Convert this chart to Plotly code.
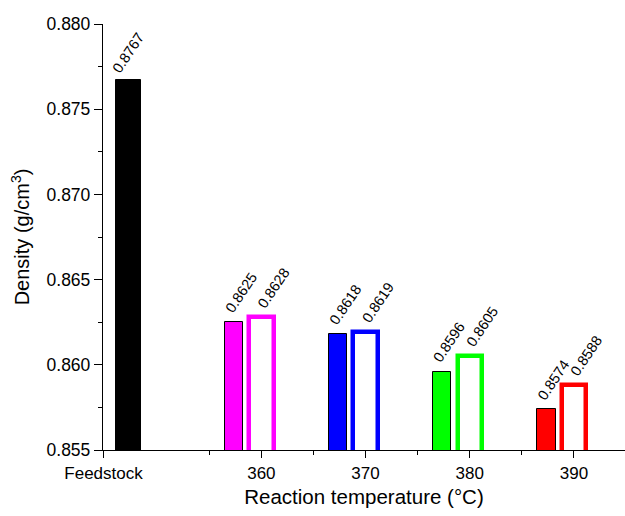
import plotly.graph_objects as go

# Reaction temperatures (°C) and measured densities (g/cm³)
temperatures = [360, 370, 380, 390]
density_solid = [0.8625, 0.8618, 0.8596, 0.8574]
density_open = [0.8628, 0.8619, 0.8605, 0.8588]
feedstock_density = 0.8767
feedstock_label = "Feedstock"
pair_colors = ["#FF00FF", "#0000FF", "#00FF00", "#FF0000"]

y_ticks = [0.855, 0.860, 0.865, 0.870, 0.875, 0.880]

# Layout of the x axis: feedstock sits at the left end of a numeric temperature axis
feed_pos = 344.85
feed_center = 347.2
x_range = [344.8, 394.9]
solid_offset = -2.65
solid_width = 1.77
open_width = 2.34
feed_width = 2.4

FONT = "Liberation Sans, Arial, sans-serif"

fig = go.Figure()

fig.add_trace(go.Bar(
    x=[feed_center], y=[feedstock_density], width=[feed_width],
    marker=dict(color="black", line=dict(color="black", width=1)),
    showlegend=False, hoverinfo="y",
))

solid_x = [t + solid_offset for t in temperatures]
fig.add_trace(go.Bar(
    x=solid_x, y=density_solid, width=[solid_width] * len(temperatures),
    marker=dict(color=pair_colors, line=dict(color="black", width=1)),
    showlegend=False, hoverinfo="y",
))

fig.add_trace(go.Bar(
    x=temperatures, y=density_open, width=[open_width] * len(temperatures),
    marker=dict(color="white", line=dict(color=pair_colors, width=4.5)),
    showlegend=False, hoverinfo="y",
))

# Rotated value labels above each bar
annotations = []

def value_label(x, y, xshift, yshift):
    annotations.append(dict(
        x=x, y=y, xref="x", yref="y", text=f"{y:.4f}", showarrow=False,
        textangle=-56, xanchor="center", yanchor="bottom",
        xshift=xshift, yshift=yshift,
        font=dict(family=FONT, size=14.5, color="black"),
    ))

value_label(feed_center, feedstock_density, 0, 2)
for x, v in zip(solid_x, density_solid):
    value_label(x, v, 7, 4)
for x, v in zip(temperatures, density_open):
    value_label(x, v, 12, 4)

fig.update_layout(
    width=625, height=516,
    margin=dict(l=103, r=0, t=24, b=66),
    paper_bgcolor="white", plot_bgcolor="white",
    barmode="overlay", bargap=0,
    font=dict(family=FONT, color="black"),
    annotations=annotations,
    showlegend=False,
)

fig.update_xaxes(
    range=x_range,
    tickmode="array",
    tickvals=[feed_pos] + temperatures,
    ticktext=[feedstock_label] + [str(t) for t in temperatures],
    ticks="outside", ticklen=7, tickwidth=1.3, tickcolor="black",
    minor=dict(tickmode="array", tickvals=[355, 365, 375, 385],
               ticks="outside", ticklen=4, tickwidth=1.3, tickcolor="black"),
    showline=True, linecolor="black", linewidth=1.3,
    showgrid=False, zeroline=False,
    tickfont=dict(family=FONT, size=17, color="black"),
    title=dict(text="Reaction temperature (°C)", font=dict(family=FONT, size=20.5, color="black"), standoff=8),
)

fig.update_yaxes(
    range=[0.855, 0.880],
    tickmode="array", tickvals=y_ticks,
    ticktext=[f"{v:.3f}" for v in y_ticks],
    ticks="outside", ticklen=8, tickwidth=1.3, tickcolor="black",
    minor=dict(tickmode="array", tickvals=[0.8575, 0.8625, 0.8675, 0.8725, 0.8775],
               ticks="outside", ticklen=4, tickwidth=1.3, tickcolor="black"),
    showline=True, linecolor="black", linewidth=1.3,
    showgrid=False, zeroline=False,
    tickfont=dict(family=FONT, size=17.5, color="black"),
    title=dict(text="Density (g/cm<sup>3</sup>)", font=dict(family=FONT, size=20, color="black"), standoff=11),
)

fig.write_html("out.html")
